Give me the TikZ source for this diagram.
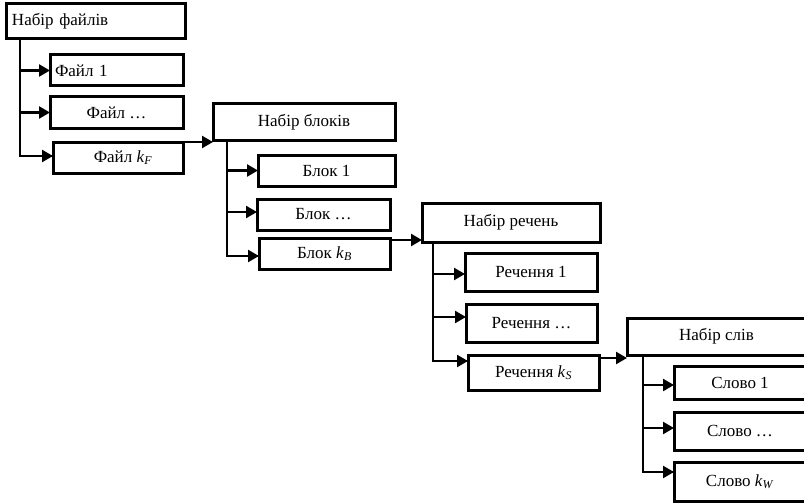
\documentclass[tikz,border=0pt]{standalone}
\usepackage{fontspec}
\setmainfont{Liberation Serif}
\usetikzlibrary{arrows.meta}
\tikzset{
  box/.style={draw, line width=3pt, inner sep=0pt, outer sep=0pt, font=\fontsize{17}{19}\selectfont},
  conn/.style={line width=2.4pt},
  arr/.style={line width=2.4pt, -{Triangle[length=11pt,width=12pt]}},
}
\newcommand{\kk}[1]{\textit{k}\textsubscript{\textit{#1}}}
\begin{document}
\begin{tikzpicture}[x=1pt,y=-1pt]
\useasboundingbox (0,0) rectangle (804,503);
\clip (0,0) rectangle (804,503);
% level 1
\node[box, minimum width=179pt, minimum height=35pt, text width=167pt, align=left] (nf) at (95.5,21.5) {Набір файлів};
\node[box, minimum width=133pt, minimum height=31pt, text width=123pt, align=left] (f1) at (116.5,70.5) {Файл 1};
\node[box, minimum width=133pt, minimum height=31pt] (f2) at (116.5,112.5) {Файл \ldots};
\node[box, minimum width=130pt, minimum height=31pt] (fk) at (118,157.5) {\hspace{10pt}Файл \kk{F}};
% level 2
\node[box, minimum width=182pt, minimum height=36pt] (nb) at (304,122) {Набір блоків};
\node[box, minimum width=137pt, minimum height=31pt] (b1) at (326.5,170.5) {Блок 1};
\node[box, minimum width=133pt, minimum height=31pt] (b2) at (323.5,214.5) {Блок \ldots};
\node[box, minimum width=131pt, minimum height=31pt] (bk) at (324.5,253.5) {Блок \kk{B}};
% level 3
\node[box, minimum width=178pt, minimum height=39pt] (nr) at (511,222.5) {Набір речень};
\node[box, minimum width=132pt, minimum height=38pt] (r1) at (531,272) {Речення 1};
\node[box, minimum width=131pt, minimum height=38pt] (r2) at (531.5,323) {Речення \ldots};
\node[box, minimum width=131pt, minimum height=35pt] (rk) at (533.5,372.5) {Речення \kk{S}};
% level 4
\node[box, minimum width=179pt, minimum height=37pt] (ns) at (716.5,336.5) {Набір слів};
\node[box, minimum width=132pt, minimum height=33pt] (s1) at (740,382.5) {Слово 1};
\node[box, minimum width=132pt, minimum height=38pt] (s2) at (740,431) {Слово \ldots};
\node[box, minimum width=132pt, minimum height=39pt] (sk) at (740,481.5) {Слово \kk{W}};
% trunk tops
\coordinate (tf) at (20,39);
\coordinate (tb) at (227,140);
\coordinate (tr) at (433,242);
\coordinate (ts) at (643,355);
% arrow targets
\coordinate (f1in) at (f1.west);
\coordinate (f2in) at (f2.west);
\coordinate (fkin) at ([yshift=1.5pt]fk.west);
\coordinate (b1in) at (b1.west);
\coordinate (b2in) at ([yshift=2.5pt]b2.west);
\coordinate (bkin) at ([yshift=-2.5pt]bk.west);
\coordinate (r1in) at ([yshift=-2pt]r1.west);
\coordinate (r2in) at ([yshift=6pt]r2.west);
\coordinate (rkin) at ([yshift=11.5pt]rk.west);
\coordinate (s1in) at ([yshift=-2.5pt]s1.west);
\coordinate (s2in) at ([yshift=3pt]s2.west);
\coordinate (skin) at ([yshift=9.5pt]sk.west);
\coordinate (fkout) at (fk.north east);
\coordinate (bkout) at ([yshift=-2pt]bk.north east);
\coordinate (rkout) at ([yshift=-3pt]rk.north east);
% level 1 arrows
\draw[conn] (tf) |- (fkin);
\draw[arr] (tf |- f1in) -- (f1in);
\draw[arr] (tf |- f2in) -- (f2in);
\draw[arr] (tf |- fkin) -- (fkin);
\draw[arr] (fkout) -- (fkout -| nb.west);
% level 2 arrows
\draw[conn] (tb) |- (bkin);
\draw[arr] (tb |- b1in) -- (b1in);
\draw[arr] (tb |- b2in) -- (b2in);
\draw[arr] (tb |- bkin) -- (bkin);
\draw[arr] (bkout) -- (bkout -| nr.west);
% level 3 arrows
\draw[conn] (tr) |- (rkin);
\draw[arr] (tr |- r1in) -- (r1in);
\draw[arr] (tr |- r2in) -- (r2in);
\draw[arr] (tr |- rkin) -- (rkin);
\draw[arr] (rkout) -- (rkout -| ns.west);
% level 4 arrows
\draw[conn] (ts) |- (skin);
\draw[arr] (ts |- s1in) -- (s1in);
\draw[arr] (ts |- s2in) -- (s2in);
\draw[arr] (ts |- skin) -- (skin);
\end{tikzpicture}
\end{document}
